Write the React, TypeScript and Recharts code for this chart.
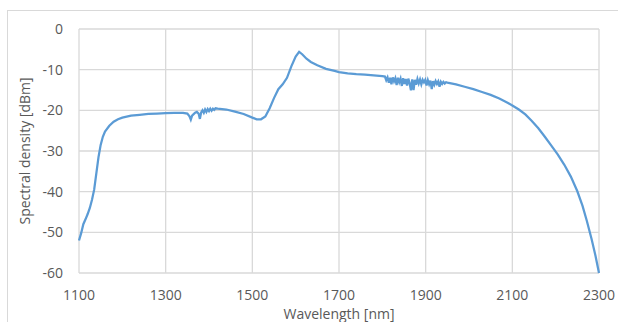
import React from "react";
import { LineChart, Line, XAxis, YAxis, CartesianGrid } from "recharts";

const wavelengths = [
  1100, 1105, 1110, 1115, 1120, 1125, 1130, 1135, 1140, 1145, 1150, 1155, 1160, 1170, 1180, 1190,
  1200, 1220, 1240, 1260, 1280, 1300, 1320, 1340, 1350, 1355, 1358, 1361, 1364, 1368, 1372, 1376,
  1379, 1382, 1385, 1388, 1391, 1394, 1397, 1400, 1403, 1406, 1409, 1412, 1415, 1420, 1440, 1460,
  1480, 1500, 1510, 1520, 1530, 1540, 1550, 1560, 1570, 1580, 1590, 1600, 1608, 1615, 1625, 1635,
  1650, 1670, 1690, 1700, 1720, 1740, 1760, 1780, 1800,
  1806, 1809, 1812, 1815, 1818, 1821, 1824, 1827, 1830, 1833, 1836, 1839, 1842, 1845, 1848, 1851,
  1854, 1857, 1860, 1863, 1866, 1869, 1872, 1875, 1878, 1881, 1884, 1887, 1890, 1893, 1896, 1899,
  1902, 1905, 1908, 1911, 1914, 1917, 1920, 1923, 1926, 1929, 1932, 1935, 1938, 1941, 1944, 1947,
  1950, 1970, 1990, 2010, 2030, 2050, 2070, 2090, 2100, 2115, 2130, 2145, 2160, 2175, 2190, 2205,
  2220, 2235, 2250, 2262, 2272, 2283, 2292, 2300,
];

const spectralDensity = [
  -52.0, -50.2, -48.0, -46.8, -45.5, -44.0, -42.0, -39.5, -35.5, -31.5, -28.5, -26.5, -25.2, -23.8, -22.8, -22.2,
  -21.8, -21.3, -21.1, -20.9, -20.8, -20.7, -20.6, -20.6, -20.8, -21.5, -22.3, -21.3, -21.0, -20.6, -20.4, -20.8,
  -22.1, -20.5, -20.0, -20.6, -19.8, -20.4, -19.7, -20.2, -19.6, -20.1, -19.6, -19.9, -19.5, -19.6, -19.8, -20.3,
  -20.9, -21.8, -22.2, -22.2, -21.5, -19.5, -17.0, -14.8, -13.6, -12.0, -9.2, -6.8, -5.6, -6.2, -7.3, -8.1,
  -8.9, -9.8, -10.3, -10.6, -10.9, -11.1, -11.2, -11.4, -11.6,
  -11.7, -12.6, -11.9, -13.2, -12.0, -13.6, -11.9, -12.9, -12.1, -13.8, -12.0, -13.1, -12.2, -14.0, -12.1, -13.5,
  -12.3, -13.9, -12.2, -13.4, -15.1, -12.4, -15.0, -12.5, -13.7, -12.3, -13.4, -12.4, -13.6, -12.5, -13.1, -12.5,
  -13.9, -12.6, -13.6, -12.7, -14.8, -12.8, -13.7, -12.8, -13.5, -12.9, -14.2, -13.0, -13.5, -13.0, -13.4, -13.1,
  -13.2, -13.6, -14.2, -14.8, -15.5, -16.2, -17.1, -18.2, -18.8, -19.8, -21.0, -22.6, -24.4, -26.5, -28.7, -30.9,
  -33.4, -36.3, -39.9, -43.5, -47.2, -51.7, -55.8, -60.0,
];

const xTicks = [1100, 1300, 1500, 1700, 1900, 2100, 2300];
const yTicks = [-60, -50, -40, -30, -20, -10, 0];

const data = wavelengths.map((w, i) => ({ w, v: spectralDensity[i] }));

const FONT = "'Open Sans', sans-serif";
const TEXT = "#595959";

export default function App() {
  return (
    <div style={{ position: "absolute", left: 0, top: 0, width: 618, height: 322, background: "#fff", overflow: "hidden" }}>
      <div
        style={{
          position: "absolute",
          left: 7,
          top: 10,
          width: 700,
          height: 400,
          borderTop: "1px solid #d9d9d9",
          borderLeft: "1px solid #d9d9d9",
        }}
      />
      <div style={{ position: "absolute", left: 0, top: 0 }}>
        <LineChart width={618} height={322} data={data} margin={{ top: 29, right: 19, bottom: 0, left: 0 }}>
          <CartesianGrid stroke="#d9d9d9" strokeWidth={1.3} />
          <XAxis
            dataKey="w"
            type="number"
            domain={[1100, 2300]}
            ticks={xTicks}
            axisLine={false}
            tickLine={false}
            tickSize={0}
            tickMargin={17}
            height={49}
            tick={{ fill: TEXT, fontSize: 14, fontFamily: FONT }}
            label={{ value: "Wavelength [nm]", position: "center", dy: 17, fill: TEXT, fontSize: 14, fontFamily: FONT }}
          />
          <YAxis
            type="number"
            domain={[-60, 0]}
            ticks={yTicks}
            axisLine={false}
            tickLine={false}
            tickSize={0}
            tickMargin={16}
            width={79}
            tick={{ fill: TEXT, fontSize: 14, fontFamily: FONT }}
            label={{ value: "Spectral density [dBm]", angle: -90, position: "center", dx: -14, fill: TEXT, fontSize: 14, fontFamily: FONT }}
          />
          <Line
            type="linear"
            dataKey="v"
            stroke="#5B9BD5"
            strokeWidth={2.25}
            dot={false}
            isAnimationActive={false}
          />
        </LineChart>
      </div>
    </div>
  );
}
